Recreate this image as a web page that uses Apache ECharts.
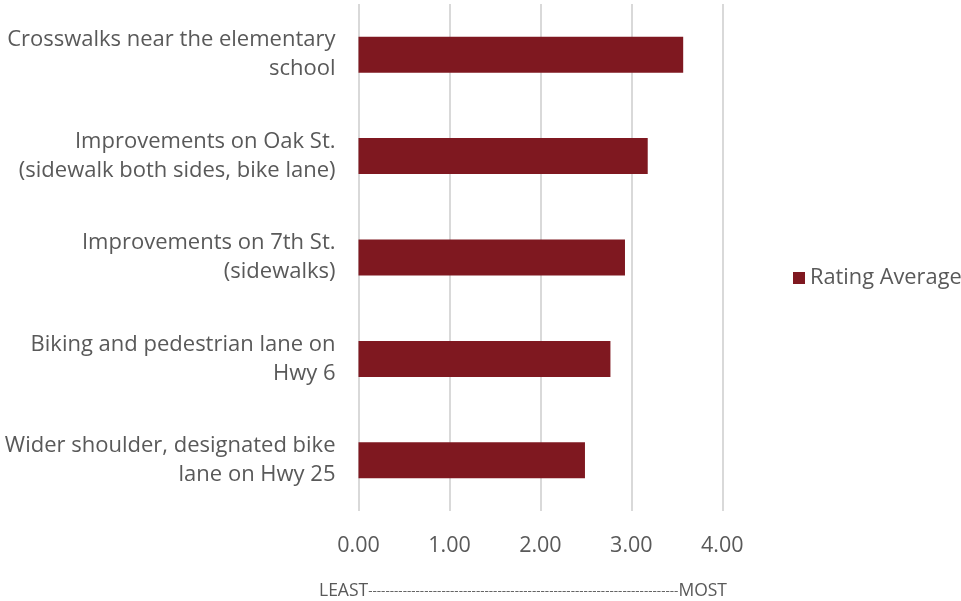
<!DOCTYPE html>
<html>
<head>
<meta charset="utf-8">
<script src="https://cdn.jsdelivr.net/npm/echarts@6/dist/echarts.min.js"></script>
<style>html,body{margin:0;padding:0;background:#fff;}#c{width:961px;height:601px;}</style>
</head>
<body>
<div id="c"></div>
<script>
const categories = [
  "Crosswalks near the elementary\nschool",
  "Improvements on Oak St.\n(sidewalk both sides, bike lane)",
  "Improvements on 7th St.\n(sidewalks)",
  "Biking and pedestrian lane on\nHwy 6",
  "Wider shoulder, designated bike\nlane on Hwy 25"
];
const ratingAverage = [3.57, 3.18, 2.93, 2.77, 2.49];
const xTicks = { min: 0, max: 4, interval: 1 };
const seriesName = "Rating Average";
const noteLeft = "LEAST";
const noteRight = "MOST";
const noteDashes = "-".repeat(72);

const chart = echarts.init(document.getElementById('c'), null, { renderer: 'canvas' });
const font = "'Open Sans', sans-serif";
chart.setOption({
  animation: false,
  textStyle: { fontFamily: font },
  grid: { left: 358.5, right: 238.7, top: 4, bottom: 90, containLabel: false },
  legend: {
    data: [seriesName],
    left: 788, top: 262,
    itemWidth: 12, itemHeight: 12, itemGap: 8,
    icon: 'rect',
    textStyle: { fontFamily: font, fontSize: 21.8, color: '#595959', padding: [0, 0, 0, 0] }
  },
  xAxis: {
    type: 'value',
    min: xTicks.min, max: xTicks.max, interval: xTicks.interval,
    axisLine: { show: false },
    axisTick: { show: false },
    splitLine: { lineStyle: { color: '#d9d9d9', width: 2 } },
    axisLabel: {
      formatter: v => v.toFixed(2),
      fontFamily: font, fontSize: 21.5, color: '#595959', margin: 24
    }
  },
  yAxis: {
    type: 'category',
    data: categories,
    inverse: true,
    axisLine: { show: false },
    axisTick: { show: false },
    axisLabel: {
      fontFamily: font, fontSize: 22, color: '#595959', margin: 23,
      lineHeight: 29, align: 'right'
    }
  },
  graphic: [{
    type: 'text',
    left: 319, top: 582,
    style: {
      text: '{a|' + noteLeft + '}{d|' + noteDashes + '}{a|' + noteRight + '}',
      rich: {
        a: { fontFamily: font, fontSize: 17.5, fill: '#595959', color: '#595959', verticalAlign: 'middle' },
        d: { fontFamily: font, fontSize: 13.4, fill: '#595959', color: '#595959', verticalAlign: 'middle' }
      }
    }
  }],
  series: [{
    name: seriesName,
    type: 'bar',
    data: ratingAverage,
    barCategoryGap: '64.5%',
    itemStyle: { color: '#7f1820' }
  }]
});
</script>
</body>
</html>
